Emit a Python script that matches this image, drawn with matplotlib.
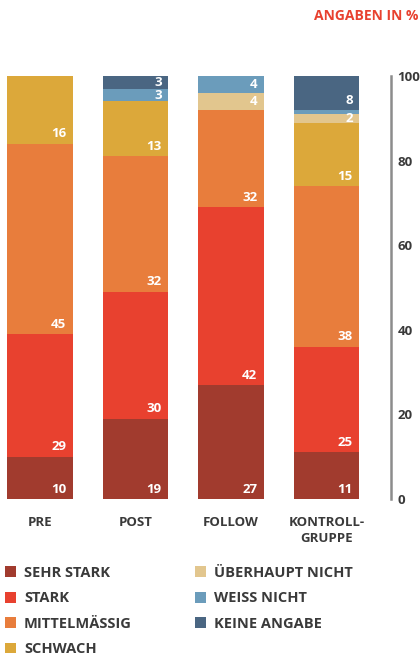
import numpy as np
import matplotlib
matplotlib.use('Agg')
import matplotlib.pyplot as plt
from matplotlib.patches import Patch

plt.rcParams['font.family'] = ['Open Sans', 'DejaVu Sans']
plt.rcParams['font.weight'] = 'bold'

# Daten (Angaben in %)
gruppen = ['PRE', 'POST', 'FOLLOW', 'KONTROLL-\nGRUPPE']
kategorien = ['SEHR STARK', 'STARK', 'MITTELMÄSSIG', 'SCHWACH',
              'ÜBERHAUPT NICHT', 'WEISS NICHT', 'KEINE ANGABE']
sehr_stark = [10, 19, 27, 11]
stark = [29, 30, 42, 25]
mittel = [45, 32, 23, 38]
schwach = [16, 13, 0, 15]
ueberhaupt = [0, 0, 4, 2]
weiss_nicht = [0, 3, 4, 1]
keine_angabe = [0, 3, 0, 8]

# Beschriftungen wie im Original (FOLLOW/mittelmässig ist dort mit 32 beschriftet)
beschriftung = [
    ['10', '19', '27', '11'],
    ['29', '30', '42', '25'],
    ['45', '32', '32', '38'],
    ['16', '13', '', '15'],
    ['', '', '4', '2'],
    ['', '3', '4', ''],
    ['', '3', '', '8'],
]

farben = ['#a13b2e', '#e8412f', '#e87d3c', '#dca83a',
          '#e2c68e', '#6b9cbb', '#4a6682']
textfarbe = '#3a3a3a'

serien = [sehr_stark, stark, mittel, schwach, ueberhaupt, weiss_nicht, keine_angabe]

fig = plt.figure(figsize=(4.2, 6.55), dpi=100)
ax = fig.add_axes([0.0, 0.2382, 391 / 420, 0.6458])

x = np.arange(len(gruppen))
breite = 0.69
unten = np.zeros(len(gruppen))
for werte, farbe, labels in zip(serien, farben, beschriftung):
    werte = np.array(werte, dtype=float)
    ax.bar(x, werte, breite, bottom=unten, color=farbe, edgecolor='none')
    for i, (v, lab) in enumerate(zip(werte, labels)):
        if v > 0 and lab:
            ax.text(x[i] + breite / 2 - 0.07, unten[i] + min(2.3, v / 2), lab,
                    ha='right', va='center', color='white', fontsize=9.5,
                    fontweight='bold')
    unten += werte

ax.set_xlim(-0.418, 3.675)
ax.set_ylim(0, 100)

for s in ['left', 'top', 'bottom']:
    ax.spines[s].set_visible(False)
ax.spines['right'].set_color('#8c8c8c')
ax.spines['right'].set_linewidth(1.8)

ax.yaxis.tick_right()
ax.set_yticks([0, 20, 40, 60, 80, 100])
ax.set_yticks([0, 100], minor=True)
ax.tick_params(axis='y', which='major', length=0, pad=4.5, labelsize=9.5,
               labelcolor=textfarbe)
ax.tick_params(axis='y', which='minor', length=3, width=1, color='#8c8c8c',
               direction='in')
ax.tick_params(axis='x', length=0, pad=12)
ax.set_xticks(x)
ax.set_xticklabels(gruppen, fontsize=9.5, color=textfarbe, linespacing=1.35)

fig.text(0.997, 0.975, 'ANGABEN IN %', ha='right', va='center',
         color='#e8412f', fontsize=10, fontweight='bold')

handles = [Patch(facecolor=f, edgecolor='none') for f in farben]
leg = fig.legend(handles, kategorien, ncol=2,
                 loc='upper left', bbox_to_anchor=(0.012, 0.136),
                 frameon=False, fontsize=10.5, handlelength=0.75,
                 handleheight=0.75, handletextpad=0.55, columnspacing=4.3,
                 labelspacing=0.78, borderaxespad=0, borderpad=0)
for t in leg.get_texts():
    t.set_color(textfarbe)

fig.savefig('out.png', dpi=100)
